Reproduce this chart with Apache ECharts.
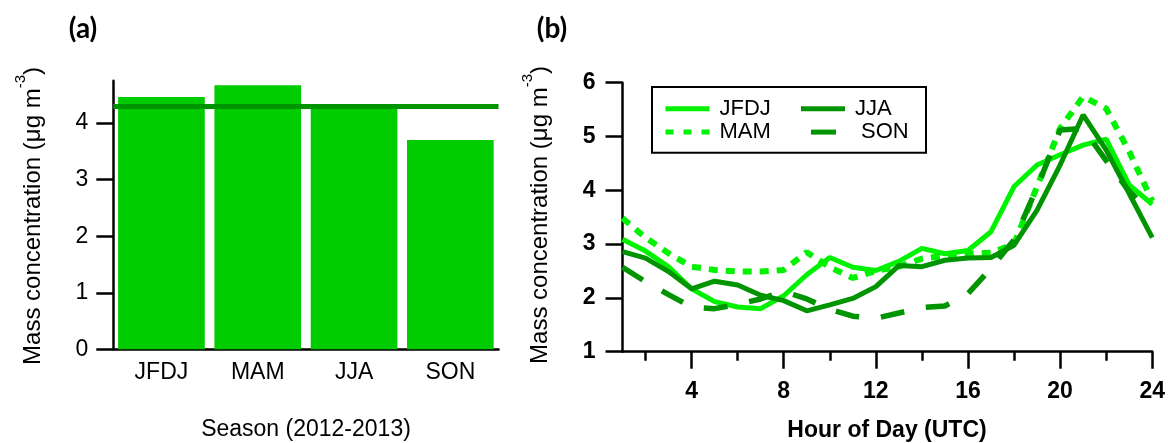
<!DOCTYPE html>
<html>
<head>
<meta charset="utf-8">
<script src="https://cdn.jsdelivr.net/npm/echarts@6/dist/echarts.min.js"></script>
<style>
  html, body { margin: 0; padding: 0; background: #fff; }
  #chart { width: 1168px; height: 443px; }
</style>
</head>
<body>
<div id="chart"></div>
<script>
// Panel (a): seasonal mean mass concentration
const seasons = ['JFDJ', 'MAM', 'JJA', 'SON'];
const seasonMeans = [4.46, 4.67, 4.25, 3.70];
const annualMean = 4.30;
const yTicksA = [0, 1, 2, 3, 4];

// Panel (b): diurnal cycle per season (hour of day, UTC)
const hours = [1, 2, 3, 4, 5, 6, 7, 8, 9, 10, 11, 12, 13, 14, 15, 16, 17, 18, 19, 20, 21, 22, 23, 24];
const jfdj = [3.09, 2.87, 2.58, 2.17, 1.93, 1.83, 1.80, 2.04, 2.43, 2.75, 2.57, 2.51, 2.68, 2.92, 2.82, 2.88, 3.23, 4.07, 4.47, 4.66, 4.84, 4.95, 4.10, 3.74];
const mam  = [3.48, 3.12, 2.83, 2.58, 2.52, 2.49, 2.49, 2.52, 2.85, 2.57, 2.37, 2.50, 2.58, 2.73, 2.78, 2.82, 2.84, 3.00, 4.07, 5.15, 5.74, 5.52, 4.72, 3.80];
const jja  = [2.86, 2.74, 2.49, 2.17, 2.31, 2.24, 2.05, 1.95, 1.76, 1.87, 1.99, 2.21, 2.60, 2.58, 2.70, 2.74, 2.75, 2.98, 3.63, 4.47, 5.40, 4.75, 3.94, 3.12];
const son  = [2.57, 2.30, 2.06, 1.83, 1.80, 1.88, 1.98, 2.12, 1.98, 1.79, 1.66, 1.62, 1.72, 1.82, 1.85, 2.08, 2.55, 3.08, 4.05, 5.12, 5.15, 4.55, 3.98, 3.58];
const hourMajorTicks = [4, 8, 12, 16, 20, 24];
const hourMinorTicks = [2, 6, 10, 14, 18, 22];

const FONT = '"Liberation Sans", Arial, sans-serif';
const BLACK = '#000';
const LIGHT = '#00f200';
const DARK = '#009400';

const pairs = vals => hours.map((h, i) => [h, vals[i]]);

const yLabelRich = {
  m: { fontFamily: FONT, fontSize: 24, color: BLACK, lineHeight: 40 },
  s: { fontFamily: FONT, fontSize: 15, color: BLACK, verticalAlign: 'top', lineHeight: 15 }
};

const chart = echarts.init(document.getElementById('chart'), null, { renderer: 'canvas' });

chart.setOption({
  backgroundColor: '#fff',
  animation: false,
  grid: [
    { left: 113.3, top: 80.7, width: 385.2, height: 268.6 },
    { left: 622.5, top: 82.7, width: 530.2, height: 269 }
  ],
  xAxis: [
    {
      type: 'category', gridIndex: 0, position: 'bottom', data: seasons,
      axisLine: { lineStyle: { color: BLACK, width: 2.5 } },
      axisTick: { length: 17, lineStyle: { color: BLACK, width: 2.5 } },
      axisLabel: { fontFamily: FONT, fontSize: 23, color: BLACK, margin: 12 }
    },
    {
      type: 'category', gridIndex: 0, position: 'bottom', data: seasons,
      axisLine: { show: false },
      axisTick: { inside: true, alignWithLabel: true, length: 4, lineStyle: { color: '#333', width: 1.5 } },
      axisLabel: { show: false }
    },
    {
      type: 'value', gridIndex: 1, position: 'bottom', min: 1, max: 24,
      axisLine: { lineStyle: { color: BLACK, width: 2.5 } },
      axisTick: { customValues: hourMajorTicks, length: 17, lineStyle: { color: BLACK, width: 2.5 } },
      axisLabel: { customValues: hourMajorTicks, fontFamily: FONT, fontSize: 23, fontWeight: 'bold', color: BLACK, margin: 28 },
      splitLine: { show: false }
    },
    {
      type: 'value', gridIndex: 1, position: 'bottom', min: 1, max: 24,
      axisLine: { show: false },
      axisTick: { customValues: hourMinorTicks, length: 9, lineStyle: { color: BLACK, width: 2.5 } },
      axisLabel: { show: false },
      splitLine: { show: false }
    }
  ],
  yAxis: [
    {
      type: 'value', gridIndex: 0, min: 0, max: 4.75,
      axisLine: { show: true, lineStyle: { color: BLACK, width: 2.5 } },
      axisTick: { show: true, customValues: yTicksA, length: 17, lineStyle: { color: BLACK, width: 2.5 } },
      axisLabel: { customValues: yTicksA, fontFamily: FONT, fontSize: 23, color: BLACK, margin: 25 },
      splitLine: { show: false }
    },
    {
      type: 'value', gridIndex: 1, min: 1, max: 6, interval: 1,
      axisLine: { show: true, lineStyle: { color: BLACK, width: 2.5 } },
      axisTick: { show: true, length: 17, lineStyle: { color: BLACK, width: 2.5 } },
      axisLabel: { fontFamily: FONT, fontSize: 23, fontWeight: 'bold', color: BLACK, margin: 27 },
      splitLine: { show: false }
    }
  ],
  legend: {
    left: 652, top: 87, width: 250, orient: 'horizontal',
    padding: [10, 15, 9, 11], itemGap: 0, itemWidth: 44, itemHeight: 2,
    borderColor: BLACK, borderWidth: 2, backgroundColor: '#fff',
    itemStyle: { opacity: 0 },
    lineStyle: { width: 5 },
    textStyle: { fontFamily: FONT, fontSize: 22, color: BLACK, lineHeight: 23.4, width: 79, padding: [0, 0, 0, 5] },
    data: [
      { name: 'JFDJ', lineStyle: { type: 'solid' } },
      { name: 'JJA', lineStyle: { type: 'solid' }, textStyle: { width: 50 } },
      { name: 'MAM', lineStyle: { type: [8, 10] } },
      { name: 'SON', lineStyle: { type: [25, 30], dashOffset: -10 }, textStyle: { width: 50, padding: [0, 0, 0, 11] } }
    ]
  },
  series: [
    {
      type: 'bar', xAxisIndex: 0, yAxisIndex: 0, data: seasonMeans,
      barCategoryGap: '10%',
      itemStyle: { color: '#00cc00' },
      markLine: {
        silent: true, symbol: ['none', 'none'],
        label: { show: false },
        lineStyle: { color: '#009400', width: 5, type: 'solid' },
        data: [{ yAxis: annualMean }]
      }
    },
    {
      name: 'JFDJ', type: 'line', xAxisIndex: 2, yAxisIndex: 1, data: pairs(jfdj),
      symbol: 'none', lineStyle: { color: LIGHT, width: 5 }, itemStyle: { color: LIGHT }
    },
    {
      name: 'MAM', type: 'line', xAxisIndex: 2, yAxisIndex: 1, data: pairs(mam),
      symbol: 'none', lineStyle: { color: LIGHT, width: 6, type: [9, 8] }, itemStyle: { color: LIGHT }
    },
    {
      name: 'JJA', type: 'line', xAxisIndex: 2, yAxisIndex: 1, data: pairs(jja),
      symbol: 'none', lineStyle: { color: DARK, width: 5 }, itemStyle: { color: DARK }
    },
    {
      name: 'SON', type: 'line', xAxisIndex: 2, yAxisIndex: 1, data: pairs(son),
      symbol: 'none', lineStyle: { color: DARK, width: 5.5, type: [24, 22] }, itemStyle: { color: DARK }
    }
  ],
  graphic: [
    { type: 'text', x: 83, y: 29, style: { text: '(a)', fontFamily: 'Lato, "Open Sans", sans-serif', fontWeight: 'bold', fontSize: 28, fill: BLACK, align: 'center', verticalAlign: 'middle' } },
    { type: 'text', x: 552, y: 29, style: { text: '(b)', fontFamily: 'Lato, "Open Sans", sans-serif', fontWeight: 'bold', fontSize: 28, fill: BLACK, align: 'center', verticalAlign: 'middle' } },
    { type: 'text', x: 33, y: 216, rotation: Math.PI / 2, style: { text: '{m|Mass concentration (μg m}{s|-3}{m|)}', rich: yLabelRich, align: 'center', verticalAlign: 'middle' } },
    { type: 'text', x: 540, y: 215, rotation: Math.PI / 2, style: { text: '{m|Mass concentration (μg m}{s|-3}{m|)}', rich: yLabelRich, align: 'center', verticalAlign: 'middle' } },
    { type: 'text', x: 306, y: 430, style: { text: 'Season (2012-2013)', fontFamily: FONT, fontSize: 23, fill: BLACK, align: 'center', verticalAlign: 'middle' } },
    { type: 'text', x: 887, y: 431, style: { text: 'Hour of Day (UTC)', fontFamily: FONT, fontSize: 23, fontWeight: 'bold', fill: BLACK, align: 'center', verticalAlign: 'middle' } }
  ]
});
</script>
</body>
</html>
